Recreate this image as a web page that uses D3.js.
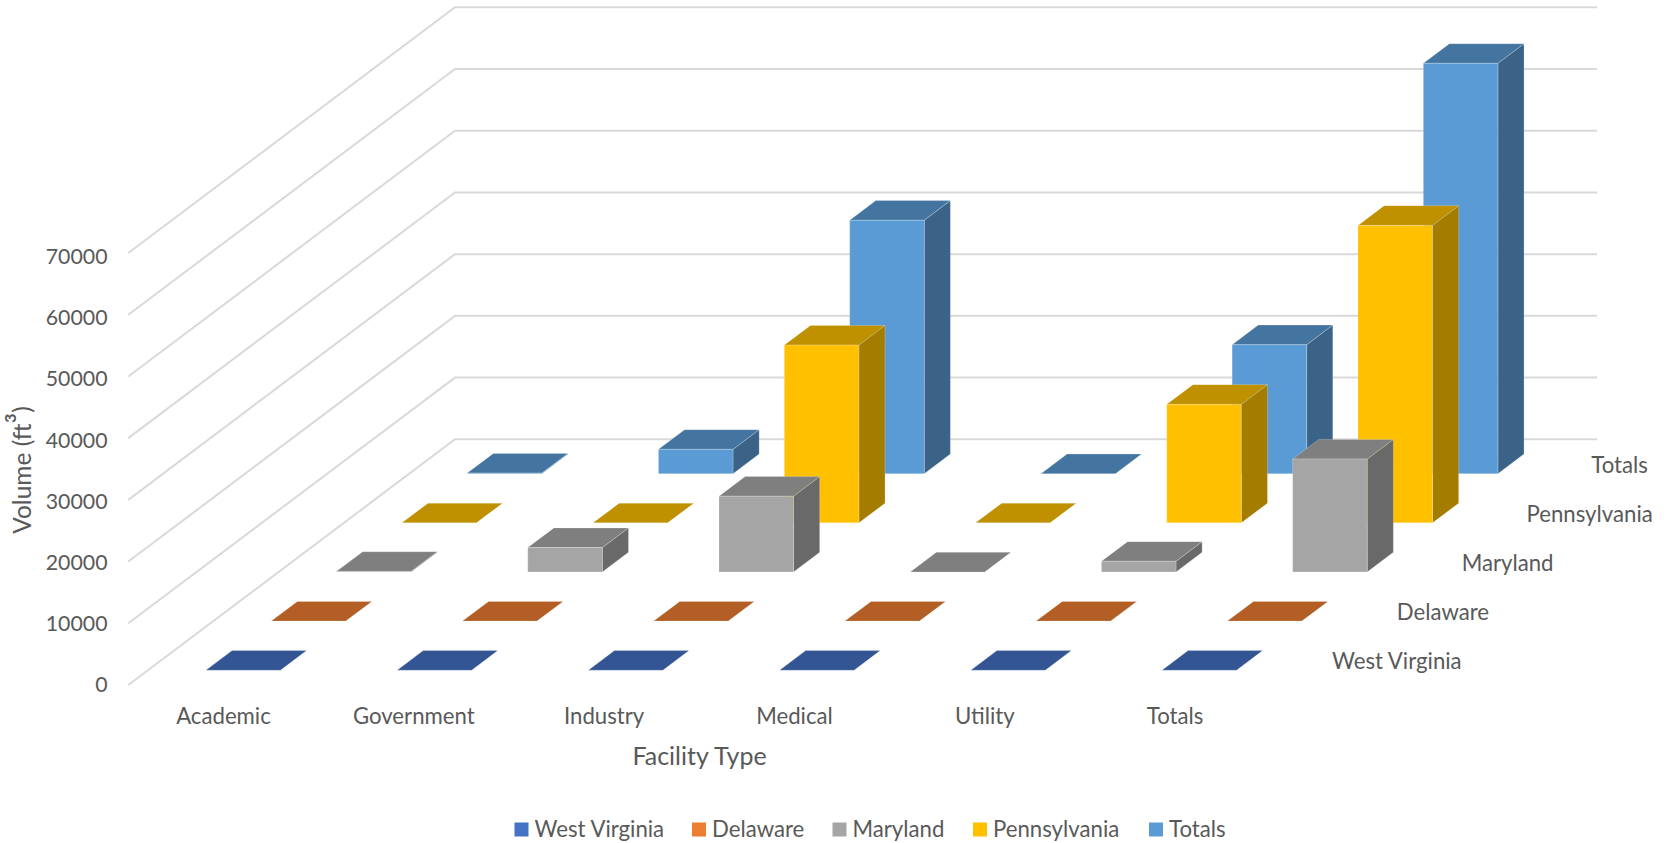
<!DOCTYPE html>
<html>
<head>
<meta charset="utf-8">
<script src="https://cdn.jsdelivr.net/npm/d3@7/dist/d3.min.js"></script>
<style>
html,body{margin:0;padding:0;background:#fff;overflow:hidden}
text{font-family:Lato,"Open Sans",sans-serif;fill:#595959}
</style>
</head>
<body>
<svg id="chart" width="1667" height="843"></svg>
<script>
const categories = ["Academic","Government","Industry","Medical","Utility","Totals"];
const seriesNames = ["West Virginia","Delaware","Maryland","Pennsylvania","Totals"];
const westVirginia = [0,0,0,0,0,0];
const delaware = [0,0,0,0,0,0];
const maryland = [100,3950,12270,0,1730,18300];
const pennsylvania = [0,0,28800,0,19200,48200];
const totals = [100,3950,41070,0,20900,66500];
const valueTicks = [0,10000,20000,30000,40000,50000,60000,70000];
const seriesValues = [westVirginia,delaware,maryland,pennsylvania,totals];

const frontPalette = ["#4472C4","#ED7D31","#A5A5A5","#FFC000","#5B9BD5"];
const topPalette   = ["#335593","#B35E25","#7F7F7F","#BF9000","#4475A0"];
const sidePalette  = ["#294477","#A04F1C","#696969","#A37C00","#3A6387"];
const legendSwatchX = [514.5,692,832.5,973,1149];

const svg = d3.select("#chart");
const originX = 128.3, originY = 685;
const floorW = 1142, depthDX = 326.7, depthDY = 245.7;

const x = d3.scaleBand().domain(d3.range(categories.length)).range([0.6,1146]).paddingInner(0.61).paddingOuter(0.3);
const xLabel = d3.scaleBand().domain(d3.range(categories.length)).range([0,floorW]);
const z = d3.scaleBand().domain(d3.range(seriesNames.length)).range([0,1]).paddingInner(0.6).paddingOuter(0.3);
const y = d3.scaleLinear().domain([0,70000]).range([0,432]);
const yLabel = d3.scaleLinear().domain([0,70000]).range([0,428.5]);

const P = (px,d,v) => [originX + px + d*depthDX, originY - d*depthDY - y(v)];
const poly = pts => "M" + pts.map(p => p.map(n => n.toFixed(2)).join(",")).join("L") + "Z";

// gridlines
const grid = svg.append("g");
valueTicks.forEach(t => {
  const a = P(0,0,t), b = P(0,1,t), c = P(floorW,1,t);
  grid.append("path").attr("d", d3.line()([a,b,c]))
    .attr("fill","none").attr("stroke","#D9D9D9").attr("stroke-width",2);
});

// bars, back to front
const bars = svg.append("g");
d3.range(seriesNames.length).reverse().forEach(s => {
  const d0 = z(s), d1 = z(s) + z.bandwidth();
  seriesValues[s].forEach((v,c) => {
    const x0 = x(c), x1 = x(c) + x.bandwidth();
    const g = bars.append("g").attr("stroke-width",1).attr("stroke-linejoin","round");
    g.append("path").attr("d",poly([P(x1,d0,0),P(x1,d1,0),P(x1,d1,v),P(x1,d0,v)]))
      .attr("fill",sidePalette[s]).attr("stroke","rgba(255,255,255,.22)");
    g.append("path").attr("d",poly([P(x0,d0,v),P(x1,d0,v),P(x1,d1,v),P(x0,d1,v)]))
      .attr("fill",topPalette[s]).attr("stroke","rgba(255,255,255,.22)");
    if (v > 0) g.append("path").attr("d",poly([P(x0,d0,0),P(x1,d0,0),P(x1,d0,v),P(x0,d0,v)]))
      .attr("fill",frontPalette[s]).attr("stroke","rgba(255,255,255,.22)");
  });
});

const fs = 22.2;
// value ticks
svg.append("g").selectAll("text").data(valueTicks).join("text")
  .attr("x",107.5).attr("y",t => originY - yLabel(t)).attr("dy","0.35em")
  .attr("text-anchor","end").attr("font-size",21.3).text(t => t);

// category labels
svg.append("g").selectAll("text").data(categories).join("text")
  .attr("x",(d,i) => originX + xLabel(i) + xLabel.bandwidth()/2).attr("y",originY + 31).attr("dy","0.35em")
  .attr("text-anchor","middle").attr("font-size",fs).text(d => d);

// series labels
svg.append("g").selectAll("text").data(seriesNames).join("text")
  .attr("x",(d,i) => P(floorW, z(i)+z.bandwidth()/2, 0)[0] + 29 - i*0.5)
  .attr("y",(d,i) => P(floorW, z(i)+z.bandwidth()/2, 0)[1] + 1).attr("dy","0.35em")
  .attr("font-size",fs).text(d => d);

// axis titles
const vt = svg.append("text").attr("transform","translate(22.5,470) rotate(-90)")
  .attr("dy","0.35em").attr("text-anchor","middle").attr("font-size",24.5);
vt.append("tspan").text("Volume (ft");
vt.append("tspan").attr("font-size",32).text("³");
vt.append("tspan").text(")");
svg.append("text").attr("x",699.5).attr("y",756).attr("dy","0.35em")
  .attr("text-anchor","middle").attr("font-size",25).text("Facility Type");

// legend
const legend = svg.append("g").selectAll("g").data(seriesNames).join("g")
  .attr("transform",(d,i) => `translate(${legendSwatchX[i]},829.5)`);
legend.append("rect").attr("x",0).attr("y",-7).attr("width",14).attr("height",14)
  .attr("fill",(d,i) => frontPalette[i]);
legend.append("text").attr("x",20).attr("dy","0.35em").attr("font-size",fs).text(d => d);
</script>
</body>
</html>
